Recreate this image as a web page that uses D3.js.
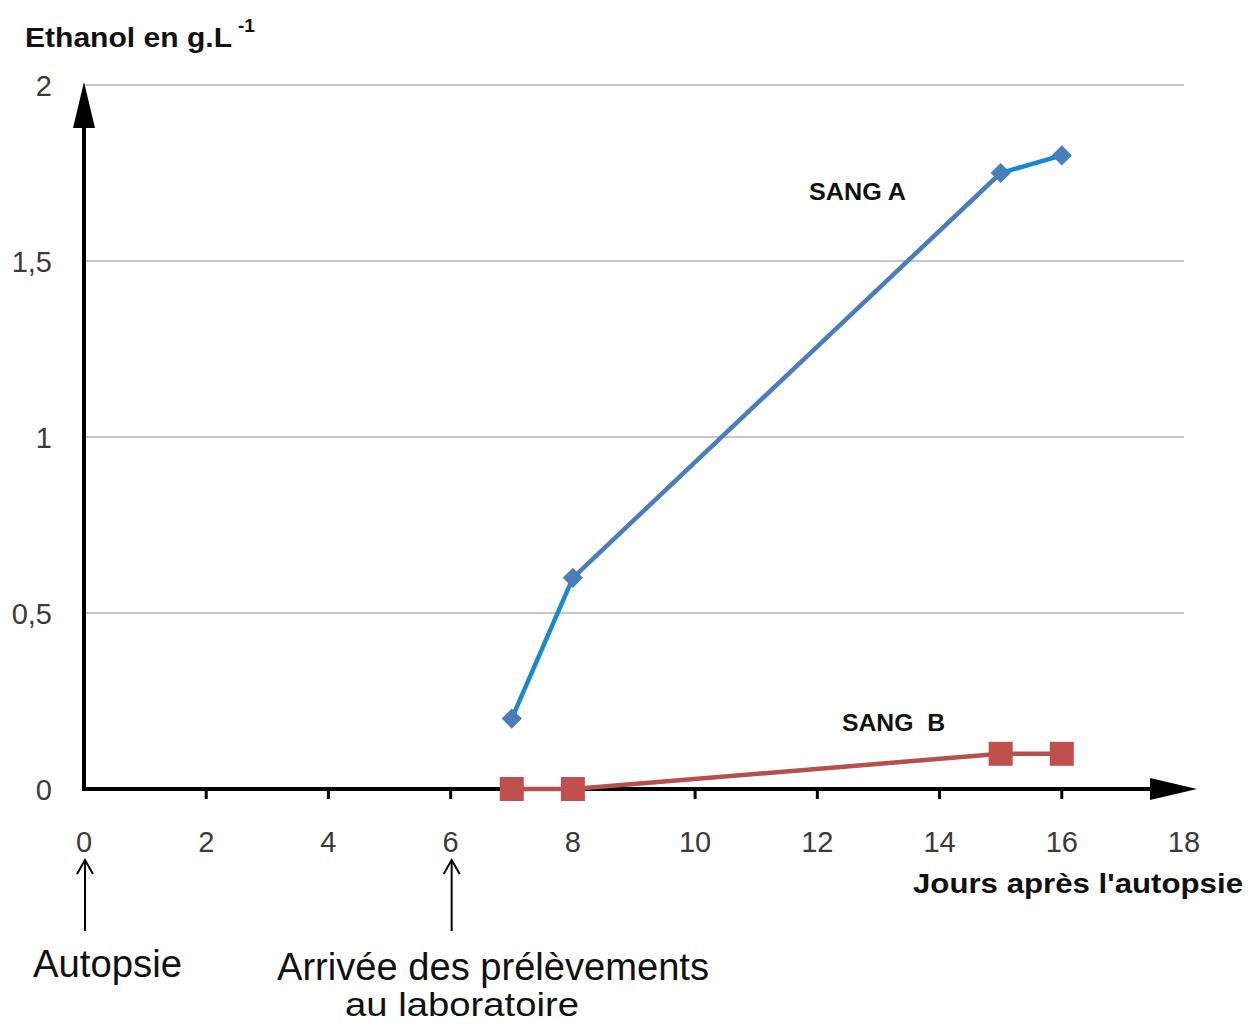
<!DOCTYPE html>
<html>
<head>
<meta charset="utf-8">
<script src="https://cdn.jsdelivr.net/npm/d3@7"></script>
<style>
  body { margin: 0; background: #fff; }
  svg text { font-family: "Liberation Sans", Arial, sans-serif; }
</style>
</head>
<body>
<div id="chart"></div>
<script>
// Data
var days = [7, 8, 15, 16];
var sangA = [0.2, 0.6, 1.75, 1.8];
var sangB = [0, 0, 0.1, 0.1];
var xTicks = [0, 2, 4, 6, 8, 10, 12, 14, 16, 18];
var yTicks = [0, 0.5, 1, 1.5, 2];
var yTickLabels = ["0", "0,5", "1", "1,5", "2"];
var markers = [
    {day: 0, label: ["Autopsie"]},
    {day: 6, label: ["Arrivée des prélèvements", "au laboratoire"]}
];

var width = 1256, height = 1026;
var svg = d3.select("#chart").append("svg")
    .attr("width", width)
    .attr("height", height);

var x = d3.scaleLinear().domain([0, 18]).range([84, 1184]);
var y = d3.scaleLinear().domain([0, 2]).range([789, 85]);

// horizontal gridlines
svg.append("g").selectAll("line")
    .data(yTicks.filter(function(d) { return d > 0; }))
    .enter().append("line")
    .attr("x1", x(0)).attr("x2", x(18))
    .attr("y1", function(d) { return y(d); })
    .attr("y2", function(d) { return y(d); })
    .attr("stroke", "#8c8c8c")
    .attr("stroke-width", 1.2);

// y tick labels
svg.append("g").selectAll("text")
    .data(yTicks)
    .enter().append("text")
    .attr("x", 52)
    .attr("y", function(d) { return y(d) + 11; })
    .attr("text-anchor", "end")
    .attr("font-size", 29)
    .attr("fill", "#3a3a3a")
    .text(function(d, i) { return yTickLabels[i]; });

// x ticks + labels
var xg = svg.append("g");
xg.selectAll("line")
    .data(xTicks.filter(function(d) { return d > 0 && d < 18; }))
    .enter().append("line")
    .attr("x1", function(d) { return x(d); })
    .attr("x2", function(d) { return x(d); })
    .attr("y1", y(0)).attr("y2", y(0) + 10)
    .attr("stroke", "#000")
    .attr("stroke-width", 3);
xg.selectAll("text")
    .data(xTicks)
    .enter().append("text")
    .attr("x", function(d) { return x(d); })
    .attr("y", 852)
    .attr("text-anchor", "middle")
    .attr("font-size", 29)
    .attr("fill", "#3a3a3a")
    .text(function(d) { return d; });

// axes with arrowheads
svg.append("line")
    .attr("x1", x(0)).attr("x2", x(0))
    .attr("y1", y(0) + 2).attr("y2", 120)
    .attr("stroke", "#000").attr("stroke-width", 4);
svg.append("path")
    .attr("d", "M" + x(0) + ",82 L" + (x(0) - 11) + ",128 L" + (x(0) + 11) + ",128 Z")
    .attr("fill", "#000");
svg.append("line")
    .attr("x1", x(0) - 2).attr("x2", 1160)
    .attr("y1", y(0)).attr("y2", y(0))
    .attr("stroke", "#000").attr("stroke-width", 4);
svg.append("path")
    .attr("d", "M1197," + y(0) + " L1150," + (y(0) - 11) + " L1150," + (y(0) + 11) + " Z")
    .attr("fill", "#000");

// series
var pts = function(vals) {
    return days.map(function(d, i) { return [x(d), y(vals[i])]; });
};
var line = d3.line();
var aPts = pts(sangA);
var aColors = ["#1a88cf", "#4a7dba", "#1a88cf"];
for (var i = 0; i < aPts.length - 1; i++) {
    svg.append("path")
        .attr("d", line([aPts[i], aPts[i + 1]]))
        .attr("stroke", aColors[i])
        .attr("stroke-width", 4.5)
        .attr("fill", "none");
}
svg.append("path")
    .attr("d", line(pts(sangB)))
    .attr("stroke", "#b5504c")
    .attr("stroke-width", 4.5)
    .attr("fill", "none");

svg.append("g").selectAll("path")
    .data(aPts)
    .enter().append("path")
    .attr("d", d3.symbol().type(d3.symbolDiamond2).size(260))
    .attr("transform", function(d) { return "translate(" + d[0] + "," + d[1] + ")"; })
    .attr("fill", "#4a7ebb");
svg.append("g").selectAll("rect")
    .data(pts(sangB))
    .enter().append("rect")
    .attr("x", function(d) { return d[0] - 12; })
    .attr("y", function(d) { return d[1] - 12; })
    .attr("width", 24).attr("height", 24)
    .attr("fill", "#c0504d");

// series labels
svg.append("text")
    .attr("x", 809).attr("y", 200)
    .attr("font-size", 24).attr("font-weight", "bold").attr("fill", "#111")
    .attr("textLength", 97).attr("lengthAdjust", "spacingAndGlyphs")
    .text("SANG A");
svg.append("text")
    .attr("x", 842).attr("y", 731)
    .attr("font-size", 24).attr("font-weight", "bold").attr("fill", "#111")
    .attr("xml:space", "preserve")
    .attr("textLength", 103).attr("lengthAdjust", "spacingAndGlyphs")
    .text("SANG  B");

// axis titles
var yt = svg.append("text")
    .attr("x", 25).attr("y", 47)
    .attr("font-size", 28).attr("font-weight", "bold").attr("fill", "#111");
yt.append("tspan").attr("textLength", 207).attr("lengthAdjust", "spacingAndGlyphs")
    .text("Ethanol en g.L");
yt.append("tspan").attr("x", 238).attr("font-size", 19).attr("dy", -15).text("-1");
svg.append("text")
    .attr("x", 913).attr("y", 893)
    .attr("font-size", 27).attr("font-weight", "bold").attr("fill", "#111")
    .attr("textLength", 330).attr("lengthAdjust", "spacingAndGlyphs")
    .text("Jours après l'autopsie");

// event arrows below the x axis
var ev = svg.append("g").selectAll("g")
    .data(markers)
    .enter().append("g");
ev.append("line")
    .attr("x1", function(d) { return x(d.day) + 1; })
    .attr("x2", function(d) { return x(d.day) + 1; })
    .attr("y1", 931).attr("y2", 860)
    .attr("stroke", "#000").attr("stroke-width", 2);
ev.append("path")
    .attr("d", function(d) {
        var cx = x(d.day) + 1;
        return "M" + (cx - 8) + ",874 L" + cx + ",860 L" + (cx + 8) + ",874";
    })
    .attr("stroke", "#000").attr("stroke-width", 2).attr("fill", "none");

var narrow = "'Liberation Sans Narrow', 'Arial Narrow', sans-serif";
svg.append("text")
    .attr("x", 33).attr("y", 977)
    .style("font-family", narrow)
    .attr("font-size", 38).attr("fill", "#111")
    .attr("textLength", 149).attr("lengthAdjust", "spacingAndGlyphs")
    .text(markers[0].label[0]);
svg.append("text")
    .attr("x", 277).attr("y", 980)
    .style("font-family", narrow)
    .attr("font-size", 38).attr("fill", "#111")
    .attr("textLength", 432).attr("lengthAdjust", "spacingAndGlyphs")
    .text(markers[1].label[0]);
svg.append("text")
    .attr("x", 345).attr("y", 1016)
    .style("font-family", narrow)
    .attr("font-size", 34).attr("fill", "#111")
    .attr("textLength", 234).attr("lengthAdjust", "spacingAndGlyphs")
    .text(markers[1].label[1]);
</script>
</body>
</html>
